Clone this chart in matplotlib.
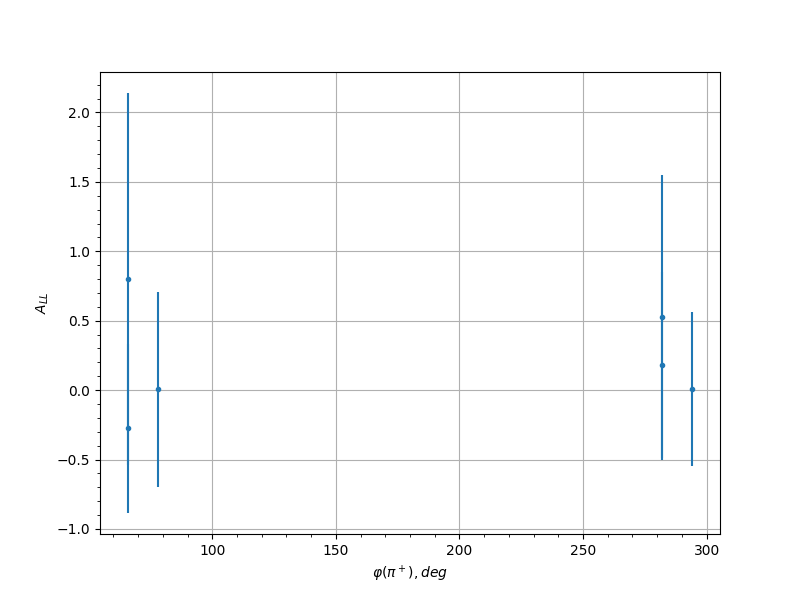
import numpy as np
import matplotlib
matplotlib.use("Agg")
import matplotlib.pyplot as plt

# phi(pi+) bins, asymmetry values and errors
phi = np.array([66, 66, 78, 282, 282, 294])
a_ll = np.array([0.80, -0.275, 0.005, 0.525, 0.18, 0.005])
a_err = np.array([1.34, 0.61, 0.70, 1.025, 0.67, 0.555])

fig = plt.figure(figsize=(8, 6), dpi=100)

plt.errorbar(phi, a_ll, yerr=a_err, fmt=".")

plt.xlabel(r"$\varphi(\pi^+), deg$")
plt.ylabel(r"$A_{LL}$")
plt.minorticks_on()
plt.grid(which="major")

plt.savefig("out.png")
plt.close()
